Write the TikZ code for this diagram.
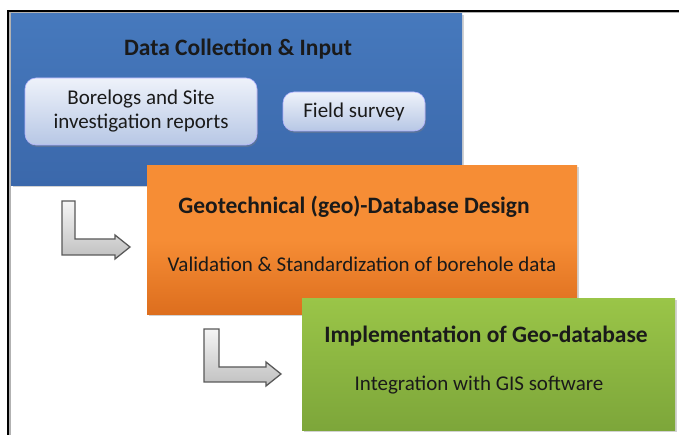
\documentclass[tikz,border=0pt]{standalone}
\usepackage{fontspec}
\setmainfont{Carlito}
\usetikzlibrary{shadows}
\definecolor{blueA}{HTML}{4679BD}
\definecolor{blueB}{HTML}{3B68AB}
\definecolor{orA}{HTML}{F68D35}
\definecolor{orB}{HTML}{DD6E1E}
\definecolor{grA}{HTML}{9AC548}
\definecolor{grB}{HTML}{7DA63A}
\definecolor{pillA}{HTML}{EEF2FA}
\definecolor{pillB}{HTML}{B7C7E5}
\definecolor{txt}{HTML}{1A1A1A}
\tikzset{
  stage/.style={draw=none, minimum width=#1, anchor=north west, inner sep=0pt,
    drop shadow={shadow xshift=1.5pt, shadow yshift=-1.5pt, opacity=0.35}},
  pill/.style={rounded corners=11pt, draw=white!70!blue, line width=0.6pt,
    top color=pillA, bottom color=pillB, align=center, inner sep=0pt,
    drop shadow={shadow xshift=1pt, shadow yshift=-2pt, opacity=0.4}},
  title/.style={font=\fontsize{23.5}{26}\selectfont\bfseries, text=txt},
  sub/.style={font=\fontsize{21}{25}\selectfont, text=txt},
  larrow/.style={draw=black!65, line width=1.3pt, line join=miter,
    top color=gray!8, bottom color=gray!50}
}
\begin{document}
\begin{tikzpicture}[x=1pt,y=-1pt]
\fill[white] (0,0) rectangle (680,435);
\useasboundingbox (0,0) rectangle (680,435);
% frame
\fill[gray!60] (9,12) rectangle (10.5,435);
\fill[gray!60] (9,12) rectangle (679,13.2);
\fill[black] (7,10) rectangle (9,435);
\fill[black] (7,10) rectangle (679,12);
% blue box
\node[stage=451pt, minimum height=172pt, top color=blueA, bottom color=blueB] (blue) at (11,13) {};
\node[title] (t1) at (238,49) {Data Collection \& Input};
\node[pill, sub, minimum width=232pt, minimum height=67pt] (bore) at (141,111.5) {Borelogs and Site\\[-1pt]investigation reports};
\node[pill, sub, minimum width=142pt, minimum height=39pt] (field) at (354,111.5) {Field survey};
% orange box
\node[stage=430pt, minimum height=149pt, top color=orA, bottom color=orB, middle color=orA] (orange) at (147,165) {};
\node[title] (t2) at (354,207) {Geotechnical (geo)-Database Design};
\node[sub] (s2) at (362,264) {Validation \& Standardization of borehole data};
% green box
\node[stage=373pt, minimum height=132pt, top color=grA, bottom color=grB] (green) at (302,298) {};
\node[title] (t3) at (486,336) {Implementation of Geo-database};
\node[sub] (s3) at (479,385) {Integration with GIS software};
% L arrows
\draw[larrow] (62,201) -- (75,201) -- (75,239) -- (115,239) -- (115,235) -- (130,247) -- (115,259) -- (115,255) -- (62,255) -- cycle;
\draw[larrow] (204,329) -- (219,329) -- (219,367) -- (266,367) -- (266,362) -- (281,374) -- (266,386) -- (266,382) -- (204,382) -- cycle;
\end{tikzpicture}
\end{document}
